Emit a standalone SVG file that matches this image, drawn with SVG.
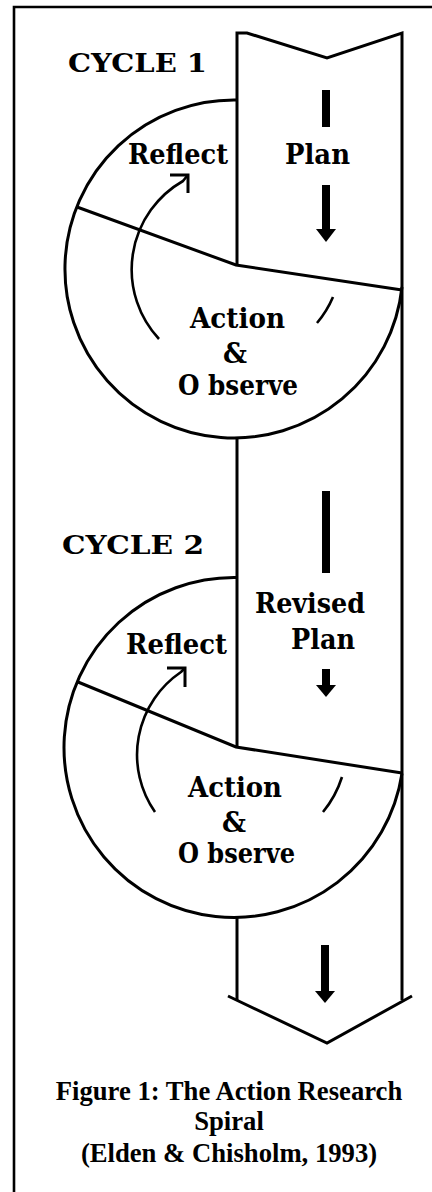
<svg xmlns="http://www.w3.org/2000/svg" width="432" height="1192" viewBox="0 0 432 1192">
<style>
.ln{fill:none;stroke:#000;stroke-width:3;stroke-linejoin:miter;stroke-linecap:butt}
.thin{fill:none;stroke:#000;stroke-width:2.6}
.lbl{font-family:"DejaVu Serif","Liberation Serif",serif;font-weight:bold;fill:#000}
.cap{font-family:"Liberation Serif","Times New Roman",serif;font-weight:bold;font-size:26.67px;fill:#000;text-anchor:middle}
.fill{fill:#000;stroke:none}
</style>
<rect x="0" y="0" width="432" height="1192" fill="#fff"/>
<path d="M14,1192 L14,7 L432,7" fill="none" stroke="#000" stroke-width="2.6"/>

<g id="band">
  <polyline class="ln" points="237,265 237,33 247,33 327,58 402,33 402,1000"/>
  <line class="ln" x1="237" y1="438" x2="237" y2="747"/>
  <line class="ln" x1="237" y1="917" x2="237" y2="1001"/>
  <polyline class="ln" points="228,996 327,1043 412,996"/>
  <text class="lbl" x="285" y="164" font-size="28" textLength="65" lengthAdjust="spacingAndGlyphs">Plan</text>
  <text class="lbl" x="255" y="613" font-size="28" textLength="110" lengthAdjust="spacingAndGlyphs">Revised</text>
  <text class="lbl" x="291" y="649" font-size="28" textLength="64" lengthAdjust="spacingAndGlyphs">Plan</text>
</g>

<g id="cycle1">
  <text class="lbl" x="68" y="72" font-size="26" textLength="139" lengthAdjust="spacingAndGlyphs">CYCLE 1</text>
  <path class="ln" d="M237,100 A169,169 0 1 0 402,287"/>
  <polyline class="ln" points="77,207 236,265 402,290"/>
  <text class="lbl" x="128" y="164" font-size="28" textLength="100" lengthAdjust="spacingAndGlyphs">Reflect</text>
  <text class="lbl" x="190" y="328" font-size="28" textLength="95" lengthAdjust="spacingAndGlyphs">Action</text>
  <text class="lbl" x="223" y="363" font-size="28" textLength="24" lengthAdjust="spacingAndGlyphs">&amp;</text>
  <text class="lbl" x="178" y="395" font-size="28" textLength="120" lengthAdjust="spacingAndGlyphs">O bserve</text>
</g>

<g id="cycle2">
  <text class="lbl" x="62" y="554" font-size="26" textLength="142" lengthAdjust="spacingAndGlyphs">CYCLE 2</text>
  <path class="ln" d="M237,577.5 A170,170 0 1 0 402,773.5"/>
  <polyline class="ln" points="78,682 236,747 402,773"/>
  <text class="lbl" x="126" y="654" font-size="28" textLength="101" lengthAdjust="spacingAndGlyphs">Reflect</text>
  <text class="lbl" x="188" y="797" font-size="28" textLength="94" lengthAdjust="spacingAndGlyphs">Action</text>
  <text class="lbl" x="222" y="832" font-size="28" textLength="24" lengthAdjust="spacingAndGlyphs">&amp;</text>
  <text class="lbl" x="178" y="863" font-size="28" textLength="117" lengthAdjust="spacingAndGlyphs">O bserve</text>
</g>

<g id="connectors">
  <!-- band down arrows -->
  <rect class="fill" x="322" y="90" width="8" height="37"/>
  <rect class="fill" x="322" y="185" width="8" height="45"/>
  <polygon class="fill" points="316,229 336,229 326,242"/>
  <rect class="fill" x="322" y="491" width="8" height="82"/>
  <rect class="fill" x="322" y="669" width="8" height="17"/>
  <polygon class="fill" points="316,685 336,685 326,697"/>
  <rect class="fill" x="321" y="945" width="8" height="47"/>
  <polygon class="fill" points="315,991 335,991 325,1003"/>
  <!-- cycle 1 reflect arrow -->
  <path class="thin" d="M159,339 A102,102 0 0 1 183,181 L187,176"/>
  <polyline class="ln" points="170,175 188,175 188,193" stroke-width="3.5"/>
  <path class="thin" d="M333,297 A102,102 0 0 1 317,323"/>
  <!-- cycle 2 reflect arrow -->
  <path class="thin" d="M155,812 A100,100 0 0 1 181,672 L184,669"/>
  <polyline class="ln" points="167,668 185,668 185,687" stroke-width="3.5"/>
  <path class="thin" d="M342,777 A105,105 0 0 1 323,812"/>
</g>

<g id="caption">
  <text class="cap" x="229" y="1100">Figure 1: The Action Research</text>
  <text class="cap" x="229" y="1130">Spiral</text>
  <text class="cap" x="229" y="1162">(Elden &amp; Chisholm, 1993)</text>
</g>
</svg>
